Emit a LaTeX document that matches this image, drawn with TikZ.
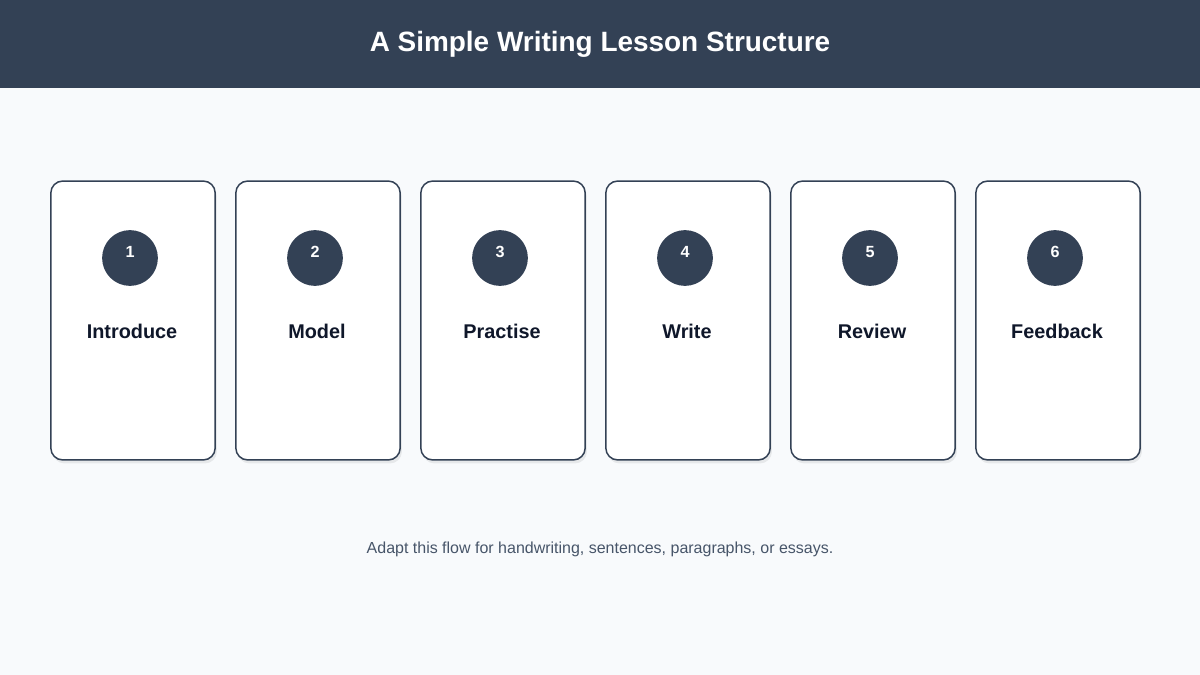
\documentclass[tikz,border=0pt]{standalone}
\usepackage{fontspec}
\setmainfont{Liberation Sans}
\usepackage{tikz}
\usetikzlibrary{positioning}
\usetikzlibrary{shadows}

\definecolor{headbg}{HTML}{334155}
\definecolor{pagebg}{HTML}{F8FAFC}
\definecolor{cardline}{HTML}{334155}
\definecolor{labeltext}{HTML}{0F172A}
\definecolor{notetext}{HTML}{475569}

\tikzset{
  card/.style={draw=cardline, line width=1.5*0.567pt, fill=white, rounded corners=12*0.567pt,
    minimum width=165*0.567pt, minimum height=280*0.567pt, inner sep=0pt,
    drop shadow={shadow xshift=1pt, shadow yshift=-2pt, opacity=0.07, fill=black}},
  numdot/.style={circle, fill=headbg, minimum size=56*0.567pt, inner sep=0pt},
  numtext/.style={text=white, font=\fontsize{9.2pt}{11pt}\selectfont\bfseries},
  cardlabel/.style={text=labeltext, font=\fontsize{11.3pt}{13pt}\selectfont\bfseries}
}

\begin{document}
\begin{tikzpicture}[x=0.02cm, y=-0.02cm]

            \fill[pagebg] (0,0) rectangle (1200,675);
            \useasboundingbox (0,0) rectangle (1200,675);

            \fill[headbg] (0,0) rectangle (1200,88);
            \node[text=white, font=\fontsize{15.9pt}{18pt}\selectfont\bfseries] (title) at (600,44.5) {A Simple Writing Lesson Structure};

            \foreach \n/\word [count=\i from 0] in {1/Introduce, 2/Model, 3/Practise, 4/Write, 5/Review, 6/Feedback} {
              \node[card] (card\n) at (133+185*\i,320.5) {};
              \node[numdot] (dot\n) at (130+185*\i,258) {};
              \node[numtext] (num\n) at (130+185*\i,252) {\n};
              \node[cardlabel] (lbl\n) at (132+185*\i,331) {\word};
            }

            \node[text=notetext, font=\fontsize{9.1pt}{11pt}\selectfont] (note) at (600,549) {Adapt this flow for handwriting, sentences, paragraphs, or essays.};

          \end{tikzpicture}
\end{document}
